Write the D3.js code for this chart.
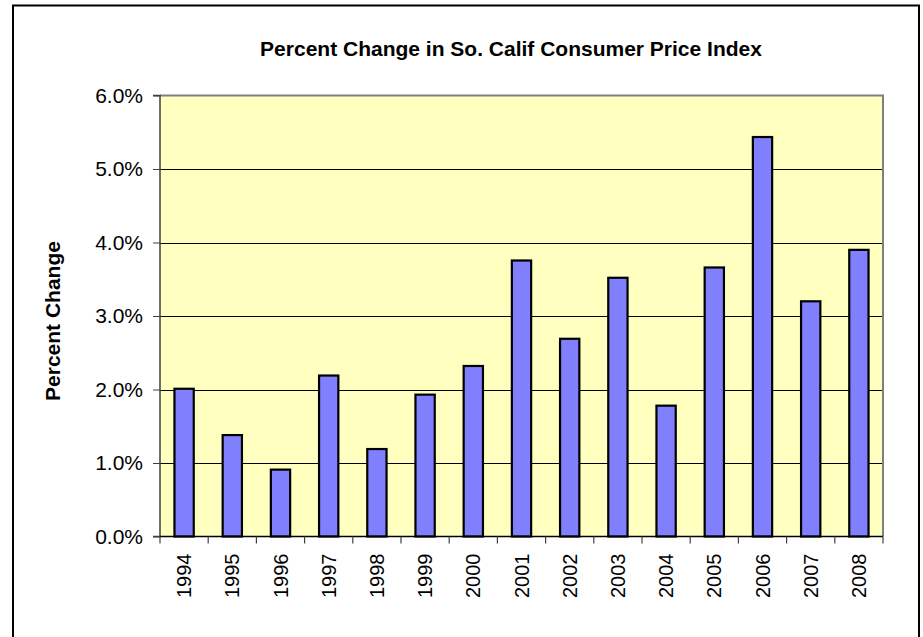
<!DOCTYPE html>
<html><head><meta charset="utf-8">
<script src="https://cdn.jsdelivr.net/npm/d3@7"></script>
<style>body{margin:0;background:#fff}svg{display:block}text{font-family:"Liberation Sans",Arial,sans-serif}</style>
</head><body><svg id="c" width="923" height="637"></svg>
<script>
const years = ["1994","1995","1996","1997","1998","1999","2000","2001","2002","2003","2004","2005","2006","2007","2008"];
const values = [2.01,1.38,0.91,2.19,1.19,1.93,2.32,3.755,2.69,3.52,1.78,3.66,5.435,3.20,3.90];
const yTicks = [0,1,2,3,4,5,6];
const title = "Percent Change in So. Calif Consumer Price Index";
const yTitle = "Percent Change";

const svg = d3.select("#c");
const m = {left:160, right:883, top:95.5, bottom:536.5};
svg.append("rect").attr("x",13).attr("y",5.5).attr("width",906).attr("height",640).attr("fill","none").attr("stroke","#000").attr("stroke-width",2);

const x = d3.scaleBand().domain(years).range([m.left,m.right]).paddingInner(0.6).paddingOuter(0.3);
const y = d3.scaleLinear().domain([0,6]).range([m.bottom,m.top]);

svg.append("rect").attr("x",m.left).attr("y",m.top).attr("width",m.right-m.left).attr("height",m.bottom-m.top).attr("fill","#FFFFC0");
// gridlines
svg.append("g").selectAll("line").data(yTicks.filter(t=>t>0&&t<6)).join("line")
  .attr("x1",m.left).attr("x2",m.right).attr("y1",d=>Math.round(y(d))+0.5).attr("y2",d=>Math.round(y(d))+0.5)
  .attr("stroke","#000").attr("stroke-width",1);
// top & right border
svg.append("path").attr("d",`M${m.left},${m.top}H${m.right}V${m.bottom}`).attr("fill","none").attr("stroke","#808080").attr("stroke-width",2);

// bars
svg.append("g").selectAll("rect").data(values).join("rect")
  .attr("x",(d,i)=>x(years[i])).attr("width",x.bandwidth())
  .attr("y",d=>y(d)).attr("height",d=>y(0)-y(d))
  .attr("fill","#8080FF").attr("stroke","#000").attr("stroke-width",2.2);

// y axis
const ya = d3.axisLeft(y).tickValues(yTicks).tickFormat(d=>d.toFixed(1)+"%").tickSize(7).tickPadding(10);
const gy = svg.append("g").attr("transform",`translate(${m.left},0)`).call(ya);
gy.select(".domain").attr("stroke","#404040").attr("stroke-width",1.5).attr("d",`M-7,${m.top}H0V${m.bottom}H-7`);
gy.selectAll(".tick line").attr("stroke","#404040");
gy.selectAll("text").attr("font-size",21).attr("fill","#000").attr("font-family","Liberation Sans, Arial, sans-serif");

// x axis
const xb = d3.scaleBand().domain(years).range([m.left,m.right]);
svg.append("line").attr("x1",m.left).attr("x2",m.right).attr("y1",m.bottom).attr("y2",m.bottom).attr("stroke","#000").attr("stroke-width",1.5);
svg.append("g").selectAll("line").data(years.concat(["end"])).join("line")
  .attr("x1",(d,i)=>m.left+i*xb.step()).attr("x2",(d,i)=>m.left+i*xb.step())
  .attr("y1",m.bottom).attr("y2",m.bottom+7).attr("stroke","#404040").attr("stroke-width",1.2);
svg.append("g").selectAll("text").data(years).join("text")
  .attr("transform",d=>`translate(${xb(d)+xb.bandwidth()/2+7},${m.bottom+17}) rotate(-90)`)
  .attr("text-anchor","end").attr("font-size",20).text(d=>d);

svg.append("text").attr("x",511).attr("y",56).attr("text-anchor","middle").attr("font-size",21).attr("font-weight","bold").text(title);
svg.append("text").attr("transform",`translate(59.5,321) rotate(-90)`).attr("text-anchor","middle").attr("font-size",21).attr("font-weight","bold").text(yTitle);
</script></body></html>
